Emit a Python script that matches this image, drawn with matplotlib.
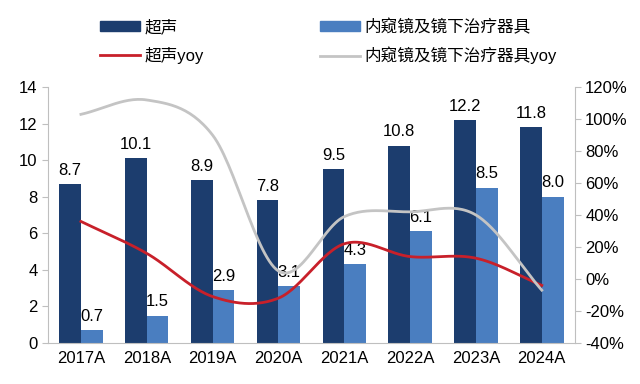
import numpy as np
import matplotlib.pyplot as plt
from matplotlib.lines import Line2D
from matplotlib.patches import Patch

plt.rcParams['font.family'] = ['Liberation Sans', 'Noto Sans CJK SC', 'DejaVu Sans']

years = ["2017A", "2018A", "2019A", "2020A", "2021A", "2022A", "2023A", "2024A"]
ultrasound = [8.7, 10.1, 8.9, 7.8, 9.5, 10.8, 12.2, 11.8]
endoscope = [0.7, 1.5, 2.9, 3.1, 4.3, 6.1, 8.5, 8.0]
ultrasound_yoy = [36, 16, -11, -12, 22, 14, 13, -4]
endoscope_yoy = [103, 112, 90, 5, 39, 42, 40, -7]

dark = "#1c3d6e"
light = "#4a7ec0"
red = "#c8202a"
grey = "#c4c4c4"


def smooth(x, y, n=30):
    # catmull-rom style smoothing like Excel's smoothed lines
    x = np.asarray(x, float)
    y = np.asarray(y, float)
    px = np.concatenate([[2 * x[0] - x[1]], x, [2 * x[-1] - x[-2]]])
    py = np.concatenate([[2 * y[0] - y[1]], y, [2 * y[-1] - y[-2]]])
    xs, ys = [], []
    for i in range(1, len(px) - 2):
        t = np.linspace(0, 1, n)
        for p, out in ((px, xs), (py, ys)):
            p0, p1, p2, p3 = p[i - 1], p[i], p[i + 1], p[i + 2]
            out.extend(0.5 * (2 * p1 + (-p0 + p2) * t
                              + (2 * p0 - 5 * p1 + 4 * p2 - p3) * t ** 2
                              + (-p0 + 3 * p1 - 3 * p2 + p3) * t ** 3))
    return np.array(xs), np.array(ys)


fig = plt.figure(figsize=(6.4, 3.84), dpi=100)
ax = fig.add_axes([0.075, 0.107, 0.823, 0.666])
ax2 = ax.twinx()

x = np.arange(len(years))
w = 0.33
b1 = ax.bar(x - w / 2, ultrasound, w, color=dark)
b2 = ax.bar(x + w / 2, endoscope, w, color=light)
for rect, v in zip(b1, ultrasound):
    ax.text(rect.get_x() + rect.get_width() / 2, v + 0.35, f"{v:.1f}",
            ha="center", va="bottom", fontsize=12)
for rect, v in zip(b2, endoscope):
    ax.text(rect.get_x() + rect.get_width() / 2, v + 0.35, f"{v:.1f}",
            ha="center", va="bottom", fontsize=12)

sx, sy = smooth(x, ultrasound_yoy)
ax2.plot(sx, sy, color=red, lw=2)
sx, sy = smooth(x, endoscope_yoy)
ax2.plot(sx, sy, color=grey, lw=2)

ax.set_xlim(-0.5, len(years) - 0.5)
ax.set_ylim(0, 14)
ax.set_yticks(range(0, 15, 2))
ax2.set_ylim(-40, 120)
ax2.set_yticks(range(-40, 121, 20))
ax2.set_yticklabels([f"{v}%" for v in range(-40, 121, 20)])
ax.set_xticks(x)
ax.set_xticklabels(years)

for a in (ax, ax2):
    for s in a.spines.values():
        s.set_visible(False)
    a.tick_params(labelsize=12, length=4, color="#bfbfbf", direction="out")
ax.spines["left"].set_visible(True)
ax.spines["bottom"].set_visible(True)
ax2.spines["right"].set_visible(True)
ax.spines["left"].set_color("#bfbfbf")
ax.spines["bottom"].set_color("#bfbfbf")
ax2.spines["right"].set_color("#bfbfbf")
ax.tick_params(axis="x", length=0, pad=6)

handles = [Patch(color=dark), Line2D([], [], color=red, lw=2),
           Patch(color=light), Line2D([], [], color=grey, lw=2)]
labels = ["超声", "超声yoy", "内窥镜及镜下治疗器具", "内窥镜及镜下治疗器具yoy"]
fig.legend(handles, labels, ncol=2, loc="upper left",
           bbox_to_anchor=(0.133, 0.99), frameon=False, fontsize=12,
           handlelength=2.4, handleheight=0.55, columnspacing=7.0,
           labelspacing=0.7, handletextpad=0.25)

fig.savefig("out.png", dpi=100)
